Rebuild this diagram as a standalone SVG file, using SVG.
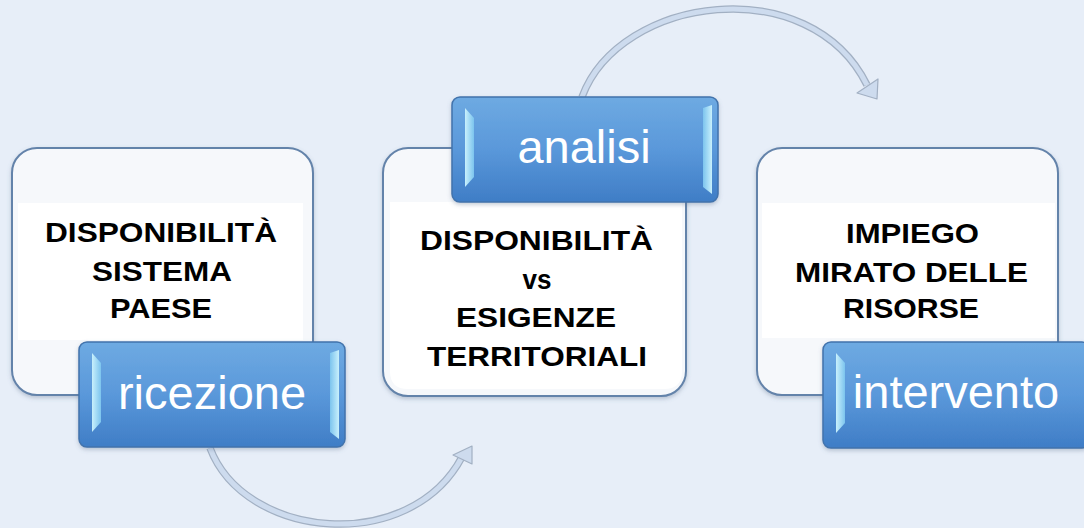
<svg xmlns="http://www.w3.org/2000/svg" width="1084" height="528" viewBox="0 0 1084 528">
<defs>
<linearGradient id="tabG" x1="0" y1="0" x2="0" y2="1">
<stop offset="0" stop-color="#6eaae2"/>
<stop offset="0.5" stop-color="#5a98da"/>
<stop offset="1" stop-color="#3f7dc6"/>
</linearGradient>
<linearGradient id="bevL" x1="0" y1="0" x2="1" y2="0">
<stop offset="0" stop-color="#c8f0fc"/>
<stop offset="1" stop-color="#7cc4ee"/>
</linearGradient>
<linearGradient id="bevR" x1="0" y1="0" x2="1" y2="0">
<stop offset="0" stop-color="#7cc4ee"/>
<stop offset="1" stop-color="#c8f0fc"/>
</linearGradient>
<filter id="sh" x="-10%" y="-10%" width="120%" height="130%">
<feDropShadow dx="0" dy="2" stdDeviation="2" flood-color="#5a6f8a" flood-opacity="0.35"/>
</filter>
<style>
.box{fill:#f6f8fb;stroke:#6483aa;stroke-width:2}
.inner{fill:#ffffff}
.tab{fill:url(#tabG);stroke:#4273ac;stroke-width:1.5}
.bl{fill:url(#bevL)}
.br{fill:url(#bevR)}
.lbl{font-family:"Liberation Sans",Arial,sans-serif;font-weight:bold;font-size:28px;fill:#000;text-anchor:middle}
.tl{font-family:"Liberation Sans",Arial,sans-serif;font-size:47px;fill:#fff;text-anchor:middle}
.arcO{fill:none;stroke:#a2b0c3;stroke-width:7.5;stroke-linecap:butt}
.arcI{fill:none;stroke:#cddbee;stroke-width:5;stroke-linecap:butt}
.head{fill:#cddbee;stroke:#a2b0c3;stroke-width:1.2;stroke-linejoin:round}
</style>
</defs>
<rect width="1084" height="528" fill="#e7eef8"/>

<g id="connectors">
<path class="arcO" d="M582 97 C620 -5 810 -30 867 85"/>
<path class="arcI" d="M582 97 C620 -5 810 -30 867 85"/>
<polygon class="head" points="878,79 877,99 857,93"/>
<path class="arcO" d="M210 448 C245 540 410 555 462 457"/>
<path class="arcI" d="M210 448 C245 540 410 555 462 457"/>
<polygon class="head" points="472,446 472,464 453,455"/>
</g>

<g id="node-ricezione">
<rect class="box" x="12" y="148" width="301" height="247" rx="25" filter="url(#sh)"/>
<rect class="inner" x="18" y="203" width="285" height="137"/>
<text class="lbl" x="161" y="242" textLength="232" lengthAdjust="spacingAndGlyphs">DISPONIBILITÀ</text>
<text class="lbl" x="162" y="281" textLength="140" lengthAdjust="spacingAndGlyphs">SISTEMA</text>
<text class="lbl" x="161" y="318" textLength="102" lengthAdjust="spacingAndGlyphs">PAESE</text>
<g filter="url(#sh)">
<rect class="tab" x="79" y="342" width="266" height="105" rx="8"/>
</g>
<polygon class="bl" points="92,353 101,363 101,422 92,432"/>
<polygon class="br" points="330,353 339,350 339,439 330,432"/>
<text class="tl" x="212" y="409">ricezione</text>
</g>

<g id="node-analisi">
<rect class="box" x="383" y="148" width="303" height="248" rx="25" filter="url(#sh)"/>
<path class="inner" d="M390 202 H682 V371 Q682 389 664 389 H408 Q390 389 390 371 Z"/>
<text class="lbl" x="536.5" y="250" textLength="233" lengthAdjust="spacingAndGlyphs">DISPONIBILITÀ</text>
<text class="lbl" x="537" y="289" textLength="29" lengthAdjust="spacingAndGlyphs">vs</text>
<text class="lbl" x="536" y="327" textLength="160" lengthAdjust="spacingAndGlyphs">ESIGENZE</text>
<text class="lbl" x="537" y="366" textLength="220" lengthAdjust="spacingAndGlyphs">TERRITORIALI</text>
<g filter="url(#sh)">
<rect class="tab" x="452" y="97" width="266" height="105" rx="8"/>
</g>
<polygon class="bl" points="465,108 474,118 474,177 465,187"/>
<polygon class="br" points="703,108 712,105 712,194 703,187"/>
<text class="tl" x="584" y="163">analisi</text>
</g>

<g id="node-intervento">
<rect class="box" x="757" y="148" width="301" height="247" rx="25" filter="url(#sh)"/>
<rect class="inner" x="762" y="203" width="293" height="135"/>
<text class="lbl" x="912.5" y="243" textLength="133" lengthAdjust="spacingAndGlyphs">IMPIEGO</text>
<text class="lbl" x="911.5" y="282" textLength="233" lengthAdjust="spacingAndGlyphs">MIRATO DELLE</text>
<text class="lbl" x="911" y="318" textLength="136" lengthAdjust="spacingAndGlyphs">RISORSE</text>
<g filter="url(#sh)">
<rect class="tab" x="823" y="342" width="267" height="106" rx="8"/>
</g>
<polygon class="bl" points="836,353 845,363 845,423 836,433"/>
<text class="tl" x="956" y="408">intervento</text>
</g>
</svg>
